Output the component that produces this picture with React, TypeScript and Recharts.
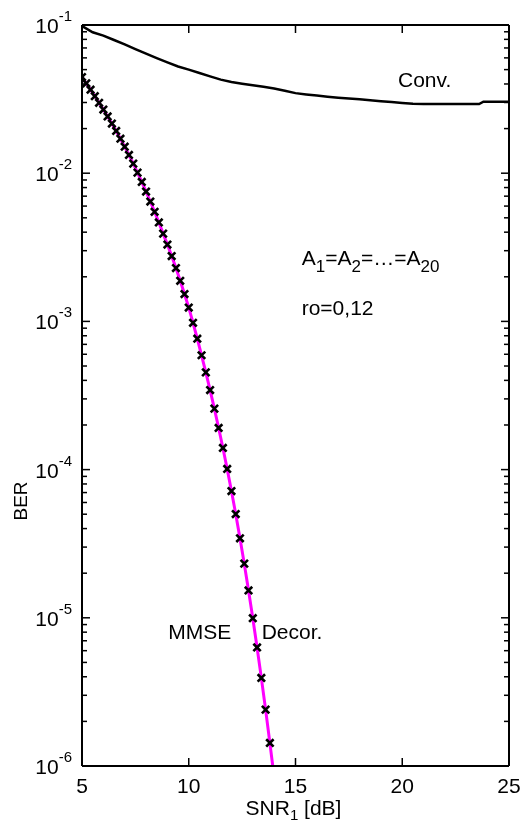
import React from 'react';
import { LineChart, Line, XAxis, YAxis, Customized } from 'recharts';

const FONT = '"Liberation Sans", Arial, Helvetica, sans-serif';

// Conventional detector
const snrConv = [5, 5.5, 6, 6.5, 7, 7.5, 8, 8.5, 9, 9.5, 10, 10.5, 11, 11.5, 12, 12.5, 13, 13.5, 14, 14.5, 15, 15.5, 16, 16.5, 17, 17.5, 18, 18.5, 19, 19.5, 20, 20.5, 21, 21.5, 22, 22.5, 23, 23.6, 23.8, 24.5, 25];
const berConv = [0.0985, 0.0893, 0.0848, 0.0792, 0.074, 0.0687, 0.064, 0.0598, 0.056, 0.0525, 0.05, 0.0474, 0.045, 0.0428, 0.0413, 0.0402, 0.0392, 0.0383, 0.0373, 0.036, 0.0347, 0.034, 0.0334, 0.0328, 0.0323, 0.0319, 0.0315, 0.0311, 0.0306, 0.0302, 0.0298, 0.0294, 0.0293, 0.0293, 0.0293, 0.0293, 0.0293, 0.0293, 0.0304, 0.0304, 0.0304];

// Decorrelator (markers)
const snrDecor = [5, 5.2, 5.4, 5.6, 5.8, 6, 6.2, 6.4, 6.6, 6.8, 7, 7.2, 7.4, 7.6, 7.8, 8, 8.2, 8.4, 8.6, 8.8, 9, 9.2, 9.4, 9.6, 9.8, 10, 10.2, 10.4, 10.6, 10.8, 11, 11.2, 11.4, 11.6, 11.8, 12, 12.2, 12.4, 12.6, 12.8, 13, 13.2, 13.4, 13.6, 13.8];
const berDecor = [0.04457, 0.04043, 0.0366, 0.03309, 0.02985, 0.02689, 0.02415, 0.02163, 0.01928, 0.0171, 0.0151, 0.01328, 0.0116, 0.01009, 0.00873, 0.00752, 0.00644, 0.00549, 0.00465, 0.00391, 0.0033, 0.00276, 0.00229, 0.00188, 0.00153, 0.00124, 9.78e-4, 7.64e-4, 5.91e-4, 4.53e-4, 3.44e-4, 2.58e-4, 1.91e-4, 1.4e-4, 1.01e-4, 7.17e-5, 5.01e-5, 3.44e-5, 2.32e-5, 1.53e-5, 9.94e-6, 6.31e-6, 3.93e-6, 2.4e-6, 1.43e-6];

// MMSE (line)
const snrMmse = [5, 5.2, 5.4, 5.6, 5.8, 6, 6.2, 6.4, 6.6, 6.8, 7, 7.2, 7.4, 7.6, 7.8, 8, 8.2, 8.4, 8.6, 8.8, 9, 9.2, 9.4, 9.6, 9.8, 10, 10.2, 10.4, 10.6, 10.8, 11, 11.2, 11.4, 11.6, 11.8, 12, 12.2, 12.4, 12.6, 12.8, 13, 13.2, 13.4, 13.6, 13.8, 14];
const berMmse = [0.04457, 0.04043, 0.0366, 0.03309, 0.02985, 0.02689, 0.02415, 0.02163, 0.01928, 0.0171, 0.0151, 0.01328, 0.0116, 0.01009, 0.00873, 0.00752, 0.00644, 0.00549, 0.00465, 0.00391, 0.0033, 0.00276, 0.00229, 0.00188, 0.00153, 0.00124, 9.78e-4, 7.64e-4, 5.91e-4, 4.53e-4, 3.44e-4, 2.58e-4, 1.91e-4, 1.4e-4, 1.01e-4, 7.17e-5, 5.01e-5, 3.44e-5, 2.32e-5, 1.53e-5, 9.94e-6, 6.31e-6, 3.93e-6, 2.4e-6, 1.43e-6, 8.4e-7];

const xTicks = [5, 10, 15, 20, 25];
const decadeExps = [-6, -5, -4, -3, -2, -1];
const minorMultipliers = [2, 3, 4, 5, 6, 7, 8, 9];

const yTicks: number[] = [];
decadeExps.forEach((e) => {
  yTicks.push(Math.pow(10, e));
  if (e < -1) minorMultipliers.forEach((m) => yTicks.push(m * Math.pow(10, e)));
});

const convData = snrConv.map((s, i) => ({ snr: s, ber: berConv[i] }));
const decorData = snrDecor.map((s, i) => ({ snr: s, ber: berDecor[i] }));
const mmseData = snrMmse.map((s, i) => ({ snr: s, ber: berMmse[i] }));

const decadeExp = (v: number) => {
  const l = Math.log10(v);
  return Math.abs(l - Math.round(l)) < 1e-6 ? Math.round(l) : null;
};

const LeftTick = (props: any) => {
  const { x, y, payload } = props;
  const e = decadeExp(payload.value);
  const len = e !== null ? 8 : 5;
  return (
    <g>
      <line x1={x} x2={x + len} y1={y} y2={y} stroke="#000" strokeWidth={1.5} />
      {e !== null && (
        <text x={x - 10} y={y + 8} textAnchor="end" fontSize={21} fontFamily={FONT} fill="#000">
          <tspan>10</tspan>
          <tspan dy={-12} fontSize={15}>{`-${Math.abs(e)}`}</tspan>
        </text>
      )}
    </g>
  );
};

const RightTick = (props: any) => {
  const { x, y, payload } = props;
  const e = decadeExp(payload.value);
  const len = e !== null ? 8 : 5;
  return <line x1={x} x2={x - len} y1={y} y2={y} stroke="#000" strokeWidth={1.5} />;
};

const BottomTick = (props: any) => {
  const { x, y, payload } = props;
  return (
    <g>
      <line x1={x} x2={x} y1={y} y2={y - 8} stroke="#000" strokeWidth={1.5} />
      <text x={x} y={y + 27} textAnchor="middle" fontSize={21} fontFamily={FONT} fill="#000">
        {payload.value}
      </text>
    </g>
  );
};

const TopTick = (props: any) => {
  const { x, y } = props;
  return <line x1={x} x2={x} y1={y} y2={y + 8} stroke="#000" strokeWidth={1.5} />;
};

const XMark = (props: any) => {
  const { cx, cy, index } = props;
  if (cx == null || cy == null) return <g key={`m-${index}`} />;
  const s = 3.7;
  return (
    <path
      key={`m-${index}`}
      d={`M${cx - s},${cy - s}L${cx + s},${cy + s}M${cx - s},${cy + s}L${cx + s},${cy - s}`}
      stroke="#000"
      strokeWidth={2.6}
      fill="none"
    />
  );
};

const Annotations = () => (
  <g fontFamily={FONT} fill="#000">
    <text x={390} y={78.5} fontSize={21}>Conv.</text>
    <text x={293.7} y={257} fontSize={21}>
      <tspan>A</tspan>
      <tspan fontSize={17} dy={7}>1</tspan>
      <tspan dy={-7}>=A</tspan>
      <tspan fontSize={17} dy={7}>2</tspan>
      <tspan dy={-7}>=…=A</tspan>
      <tspan fontSize={17} dy={7}>20</tspan>
    </text>
    <text x={293.7} y={307} fontSize={21}>ro=0,12</text>
    <text x={160.3} y={630.5} fontSize={21}>MMSE</text>
    <text x={253.7} y={630.5} fontSize={21}>Decor.</text>
  </g>
);

const YLabel = (props: any) => {
  const vb = props.viewBox || { x: 0, y: 17 };
  const cx = vb.x + 12;
  const cy = vb.y + 476;
  return (
    <text x={cx} y={cy} transform={`rotate(-90 ${cx} ${cy})`} textAnchor="middle" dominantBaseline="central" fontSize={19} fontFamily={FONT} fill="#000">
      BER
    </text>
  );
};

const XLabel = (props: any) => {
  const vb = props.viewBox || { x: 74, y: 758, width: 427 };
  const cx = vb.x + vb.width / 2 - 2;
  const by = vb.y + 49;
  return (
    <text x={cx} y={by} textAnchor="middle" fontSize={21} fontFamily={FONT} fill="#000">
      <tspan>SNR</tspan>
      <tspan fontSize={15} dy={5}>1</tspan>
      <tspan dy={-5}> [dB]</tspan>
    </text>
  );
};

export default function App() {
  return (
    <div style={{ position: 'fixed', top: 8, left: 8, width: 514, height: 817 }}>
      <LineChart width={514} height={817} margin={{ top: 0, right: 8, bottom: 0, left: 0 }}>
        <XAxis
          xAxisId="b"
          dataKey="snr"
          type="number"
          domain={[5, 25]}
          ticks={xTicks}
          allowDataOverflow
          height={59}
          tickSize={0}
          tickMargin={0}
          tick={<BottomTick />}
          tickLine={false}
          interval={0}
          axisLine={{ stroke: '#000', strokeWidth: 2 }}
          label={<XLabel />}
        />
        <XAxis
          xAxisId="t"
          orientation="top"
          dataKey="snr"
          type="number"
          domain={[5, 25]}
          ticks={xTicks}
          allowDataOverflow
          height={17}
          tickSize={0}
          tickMargin={0}
          tick={<TopTick />}
          tickLine={false}
          interval={0}
          axisLine={{ stroke: '#000', strokeWidth: 2 }}
        />
        <YAxis
          yAxisId="l"
          type="number"
          scale="log"
          domain={[1e-6, 1e-1]}
          ticks={yTicks}
          allowDataOverflow
          width={74}
          tickSize={0}
          tickMargin={0}
          tick={<LeftTick />}
          tickLine={false}
          interval={0}
          axisLine={{ stroke: '#000', strokeWidth: 2 }}
          label={<YLabel />}
        />
        <YAxis
          yAxisId="r"
          orientation="right"
          type="number"
          scale="log"
          domain={[1e-6, 1e-1]}
          ticks={yTicks}
          allowDataOverflow
          width={5}
          tickSize={0}
          tickMargin={0}
          tick={<RightTick />}
          tickLine={false}
          interval={0}
          axisLine={{ stroke: '#000', strokeWidth: 2 }}
        />
        <Line
          xAxisId="b"
          yAxisId="l"
          data={convData}
          dataKey="ber"
          stroke="#000"
          strokeWidth={2.5}
          dot={false}
          isAnimationActive={false}
          type="linear"
        />
        <Line
          xAxisId="b"
          yAxisId="l"
          data={decorData}
          dataKey="ber"
          stroke="none"
          dot={<XMark />}
          isAnimationActive={false}
          type="linear"
        />
        <Line
          xAxisId="b"
          yAxisId="l"
          data={mmseData}
          dataKey="ber"
          stroke="#FF00FF"
          strokeWidth={3}
          dot={false}
          isAnimationActive={false}
          type="monotone"
        />
        <Line
          xAxisId="t"
          yAxisId="r"
          data={convData}
          dataKey="ber"
          stroke="none"
          dot={false}
          isAnimationActive={false}
          legendType="none"
        />
        <Customized component={Annotations} />
      </LineChart>
    </div>
  );
}
